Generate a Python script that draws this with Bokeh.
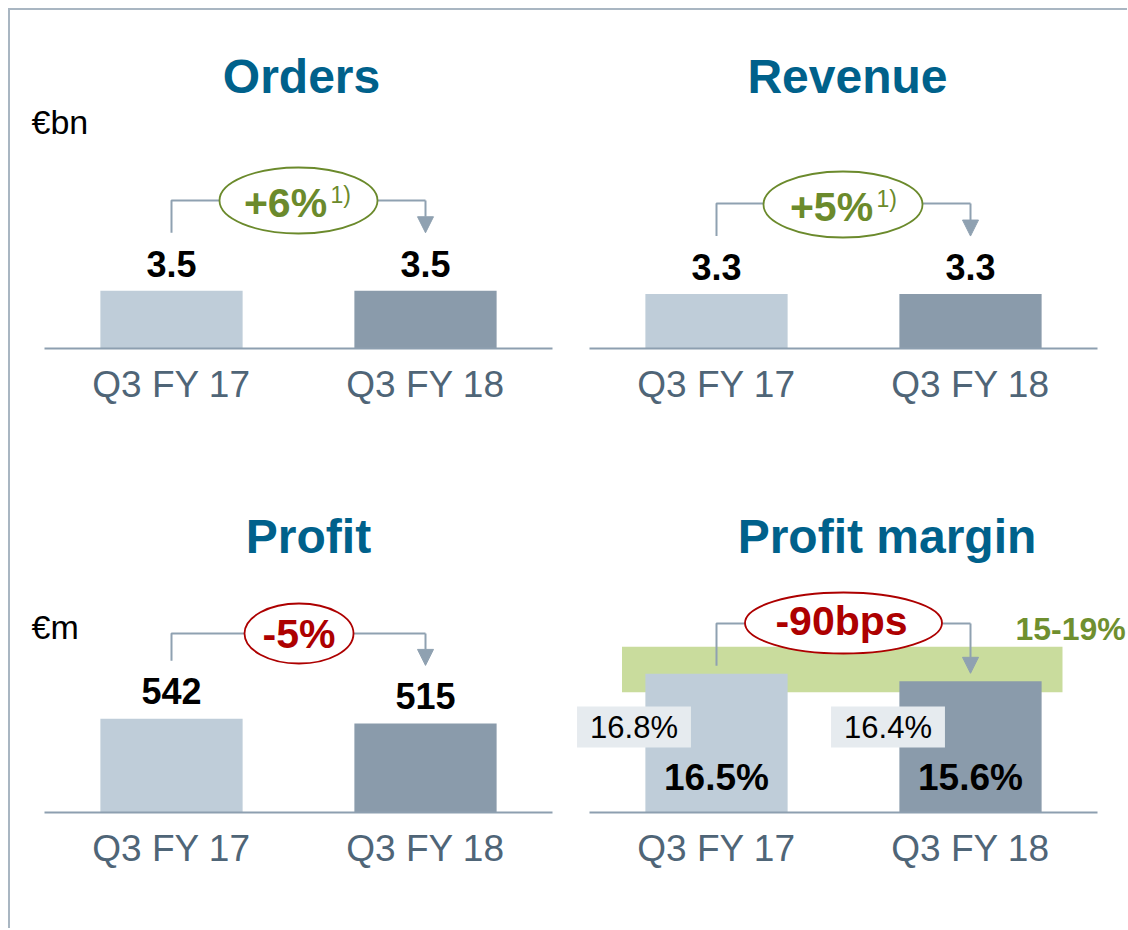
import numpy as np
from bokeh.plotting import figure
from bokeh.models import Range1d, Label, BoxAnnotation, Arrow, NormalHead, ColumnDataSource, FixedTicker
from bokeh.layouts import gridplot
from bokeh.embed import file_html
from bokeh.resources import INLINE
from bokeh.core.properties import value

# ---------------- data ----------------
categories = ["Q3 FY 17", "Q3 FY 18"]
orders_values = [3.5, 3.5]
revenue_values = [3.3, 3.3]
profit_values = [542, 515]
margin_values = [16.5, 15.6]
margin_boxed_values = [16.8, 16.4]
margin_target_range = [14.3, 19.7]
orders_change = "+6%"
revenue_change = "+5%"
profit_change = "-5%"
margin_change = "-90bps"
footnote = "1)"
target_text = "15-19%"
panel_titles = ["Orders", "Revenue", "Profit", "Profit margin"]
unit_labels = ["€bn", "€m"]

# ---------------- styling ----------------
FONT = "Liberation Sans"
TITLE_COLOR = "#00618b"
BAR_COLORS = ["#bfcdd9", "#8a9bab"]
LINE_COLOR = "#8fa1b1"
AXIS_COLOR = "#8d9fb0"
TICK_COLOR = "#4f6577"
GREEN = "#6b8a2c"
RED = "#ad0000"
BAND = "#c9dc9d"
BOX = "#e6ebef"
PX_PER_CAT = 254.0          # pixels between two category slots
idx = list(range(len(categories)))


def make_panel(values, w, h, bb, x0_px, frame_left_px, frame_top_px, baseline, k):
    """x0_px: page x of first category; baseline: page y of value 0; k: px per unit."""
    frame_w = w
    frame_h = h - bb
    x_start = (frame_left_px - x0_px) / PX_PER_CAT
    x_end = x_start + frame_w / PX_PER_CAT
    y_end = (baseline - frame_top_px) / k
    y_start = y_end - frame_h / k
    p = figure(width=w, height=h, x_range=Range1d(x_start, x_end),
               y_range=Range1d(y_start, y_end), output_backend="svg",
               toolbar_location=None, min_border_left=0, min_border_right=0,
               min_border_top=0, min_border_bottom=bb)
    p.yaxis.visible = False
    p.xgrid.visible = False
    p.ygrid.visible = False
    p.outline_line_color = None
    p.border_fill_color = "white"
    p.background_fill_color = "white"
    ax = p.xaxis[0]
    ax.ticker = FixedTicker(ticks=idx)
    ax.major_label_overrides = {i: c for i, c in zip(idx, categories)}
    ax.axis_line_color = None
    ax.major_tick_line_color = None
    ax.minor_tick_line_color = None
    ax.major_tick_out = 0
    ax.major_tick_in = 0
    ax.major_label_standoff = 11
    ax.major_label_text_font = FONT
    ax.major_label_text_font_size = "37px"
    ax.major_label_text_color = TICK_COLOR
    src = ColumnDataSource(dict(x=idx, val=values, color=BAR_COLORS))
    p.vbar(x="x", top="val", width=0.56, fill_color="color", line_color=None, source=src)
    # baseline across the category slots
    p.segment(x0=[idx[0] - 0.5], y0=[0], x1=[idx[-1] + 0.5], y1=[0],
              line_color=AXIS_COLOR, line_width=2)
    g = dict(x0=x0_px, bl=baseline, k=k)
    return p, g


def X(g, px):
    return (px - g["x0"]) / PX_PER_CAT


def Y(g, py):
    return (g["bl"] - py) / g["k"]


def label(p, g, px, py, text, size, color="black", bold=False, align="center", **kw):
    p.add_layout(Label(x=X(g, px), y=Y(g, py), text=text, text_font=FONT,
                       text_font_size=size, text_color=color,
                       text_font_style="bold" if bold else "normal",
                       text_align=align, text_baseline="middle", **kw))


def value_labels(p, g, values, texts, gap):
    ys = np.array(values, dtype=float) + gap / g["k"]
    p.text(x=idx, y=ys, text=texts, text_font=value(FONT),
           text_font_size=value("36px"), text_font_style="bold",
           text_color="black", text_align="center", text_baseline="middle")


def change(p, g, values, gap, bracket_y, ell, text, text_x, text_y, color, sup=None):
    k = g["k"]
    left_end = values[0] + gap / k
    tip = values[1] + gap / k
    by = Y(g, bracket_y)
    cx, cy, ew, eh = ell
    ex0 = X(g, cx - ew / 2)
    ex1 = X(g, cx + ew / 2)
    p.line([idx[0], idx[0], ex0], [left_end, by, by], line_color=LINE_COLOR, line_width=2)
    p.line([ex1, idx[1]], [by, by], line_color=LINE_COLOR, line_width=2)
    p.add_layout(Arrow(end=NormalHead(size=16, fill_color=LINE_COLOR, line_color=LINE_COLOR),
                       x_start=idx[1], y_start=by, x_end=idx[1], y_end=tip,
                       line_color=LINE_COLOR, line_width=2))
    p.ellipse(x=[X(g, cx)], y=[Y(g, cy)], width=[ew], height=[eh],
              width_units="screen", height_units="screen",
              fill_color="white", line_color=color, line_width=1.8)
    label(p, g, text_x, text_y, text, "41px", color=color, bold=True)
    if sup is not None:
        sx, sy = sup
        label(p, g, sx, sy, footnote, "23px", color=color, align="left")


# ---------------- panels (page layout: content starts at x=10, y=10) ----------------
p1, g1 = make_panel(orders_values, 556, 462, 120, 171, 10, 10, 348, 16.5)
p2, g2 = make_panel(revenue_values, 561, 462, 120, 716, 566, 10, 348, 16.5)
p3, g3 = make_panel(profit_values, 556, 456, 112, 171, 10, 472, 812, 0.173)
p4, g4 = make_panel(margin_values, 561, 456, 112, 716, 566, 472, 812, 8.41)

# Orders
label(p1, g1, 301, 75.5, panel_titles[0], "48px", TITLE_COLOR, bold=True)
label(p1, g1, 31, 121, unit_labels[0], "34px", "black", align="left")
value_labels(p1, g1, orders_values, [f"{v:.1f}" for v in orders_values], 27)
change(p1, g1, orders_values, 58, 200, (298, 200, 158, 66), orders_change, 285, 202.5, GREEN, sup=(330, 194))

# Revenue
label(p2, g2, 847, 75.5, panel_titles[1], "48px", TITLE_COLOR, bold=True)
value_labels(p2, g2, revenue_values, [f"{v:.1f}" for v in revenue_values], 27)
change(p2, g2, revenue_values, 58, 203, (842.5, 204, 159, 66), revenue_change, 831, 206.5, GREEN, sup=(876, 198))

# Profit
label(p3, g3, 308, 535.5, panel_titles[2], "48px", TITLE_COLOR, bold=True)
label(p3, g3, 31, 626, unit_labels[1], "34px", "black", align="left")
value_labels(p3, g3, profit_values, [f"{v}" for v in profit_values], 27.5)
change(p3, g3, profit_values, 58, 633, (298.5, 633, 109, 60), profit_change, 298.5, 633, RED)

# Profit margin
label(p4, g4, 886.5, 535.5, panel_titles[3], "48px", TITLE_COLOR, bold=True)
p4.add_layout(BoxAnnotation(left=X(g4, 621.5), right=X(g4, 1062),
                            bottom=margin_target_range[0], top=margin_target_range[1],
                            fill_color=BAND, fill_alpha=1.0, line_color=None, level="underlay"))
label(p4, g4, 1015, 628.5, target_text, "32px", "#6f8f2f", bold=True, align="left")
p4.text(x=idx, y=[35.5 / g4["k"]] * 2, text=[f"{v:.1f}%" for v in margin_values],
        text_font=value(FONT), text_font_size=value("37px"), text_font_style="bold",
        text_color="black", text_align="center", text_baseline="middle")
for i, v in enumerate(margin_boxed_values):
    p4.add_layout(Label(x=idx[i] - 82.5 / PX_PER_CAT, y=Y(g4, 726.5), text=f"{v:.1f}%",
                        text_font=FONT, text_font_size="31px", text_color="black",
                        text_align="center", text_baseline="middle",
                        background_fill_color=BOX, background_fill_alpha=1.0,
                        padding=dict(left=13, right=13, top=3, bottom=3)))
change(p4, g4, margin_values, 8, 623, (843, 622.5, 197, 61), margin_change, 841, 620, RED)

grid = gridplot([[p1, p2], [p3, p4]], toolbar_location=None)
grid.styles = {"margin-left": "8px", "margin-top": "8px",
               "border-left": "2px solid #a9b6c2", "border-top": "2px solid #a9b6c2"}

open("out.html", "w").write(file_html(grid, INLINE))
